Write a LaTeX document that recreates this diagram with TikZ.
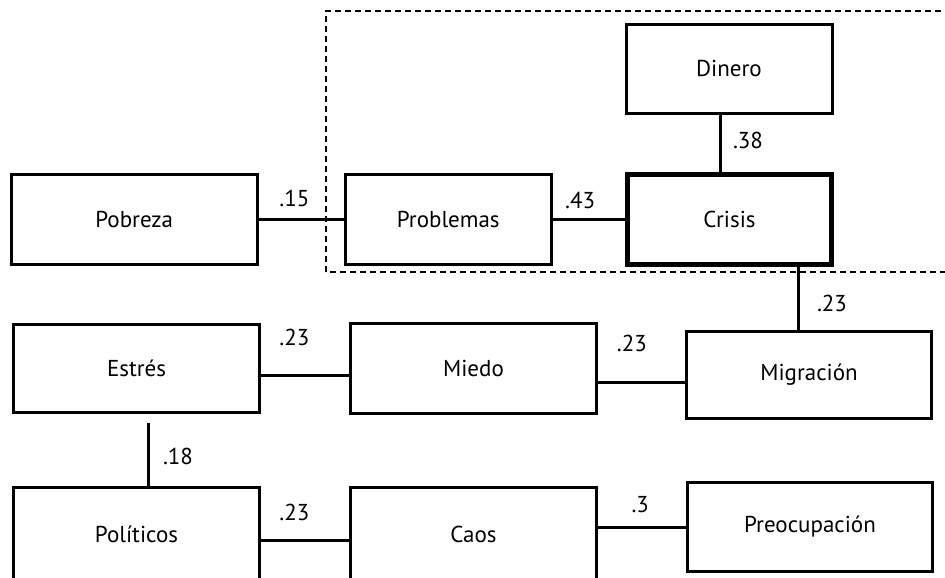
\documentclass[tikz,border=0pt]{standalone}
\usepackage{fontspec}
\setmainfont{PT Sans}
\usetikzlibrary{positioning,shadows}
\tikzset{
  base/.style={align=center, font=\fontsize{23}{27}\selectfont, text=black},
  factor/.style={base, rectangle, draw=black, fill=white, line width=3pt, inner sep=0pt, minimum width=246pt, minimum height=90pt, drop shadow={shadow xshift=1.5pt, shadow yshift=-1.5pt, opacity=0.3}},
  link/.style={draw=black, line width=3pt},
  weight/.style={font=\fontsize{23}{27}\selectfont, text=black, inner sep=1pt}
}

\begin{document}
\begin{tikzpicture}[x=1pt, y=1pt]
  \useasboundingbox (0,0) rectangle (945,578);
  \clip (0,0) rectangle (945,578);

  % Frame round the core
  \draw[line width=1.5pt, dash pattern=on 6pt off 4pt] (326,306) rectangle (960,567);

  % Top Row
  \node[factor, minimum width=204pt, line width=5.5pt] (crisis) at (729.5,358.5) {Crisis};
  \node[factor, minimum width=206pt, left=72pt of crisis] (problemas) {Problemas};
  \node[factor, left=85pt of problemas] (pobreza) {Pobreza};
  \node[factor, minimum width=206pt, minimum height=89pt] (dinero) at (729,509) {Dinero};

  % Middle Row
  \node[factor, minimum height=88pt] (estres) at (136.5,209.5) {Estrés};
  \node[factor, right=88pt of estres] (miedo) {Miedo};
  \node[factor, minimum width=245pt, minimum height=87pt] (migracion) at (809,203) {Migración};

  % Bottom Row
  \node[factor, minimum height=92pt] (politicos) at (136.5,44) {Políticos};
  \node[factor, minimum height=92pt, right=88pt of politicos] (caos) {Caos};
  \node[factor, minimum width=245pt, minimum height=89pt] (preocupacion) at (810,51) {Preocupación};

  % Edges
  \draw[link] (pobreza) -- node[weight, pos=.42, yshift=21pt] (w15) {.15} (problemas);
  \draw[link] (problemas) -- node[weight, pos=.38, yshift=19pt] (w43) {.43} (crisis);

  \coordinate (dbot) at ([xshift=-9pt]dinero.south);
  \draw[link] (dbot) -- node[weight, pos=.44, xshift=28pt] (w38) {.38} (dbot |- crisis.north);

  \coordinate (mtop) at ([xshift=-11pt]migracion.north);
  \draw[link] (mtop |- crisis.south) -- node[weight, pos=.57, xshift=34pt] (w23c) {.23} (mtop);

  \draw[link] ([yshift=-7pt]estres.east) -- node[weight, pos=.38, yshift=38pt] (w23e) {.23} ([yshift=-7pt]miedo.west);
  \draw[link] ([yshift=-14.5pt]miedo.east) -- node[weight, pos=.39, yshift=40pt] (w23m) {.23} ([yshift=-8pt]migracion.west);

  \coordinate (ebot) at ([xshift=11.5pt, yshift=-9pt]estres.south);
  \draw[link] (ebot) -- node[weight, pos=.52, xshift=30pt] (w18) {.18} (ebot |- politicos.north);

  \draw[link] ([yshift=-7pt]politicos.east) -- node[weight, pos=.38, yshift=29pt] (w23p) {.23} ([yshift=-7pt]caos.west);
  \draw[link] ([yshift=6pt]caos.east) -- node[weight, pos=.48, yshift=23pt] (w3) {.3} ([yshift=-1pt]preocupacion.west);

\end{tikzpicture}
\end{document}
